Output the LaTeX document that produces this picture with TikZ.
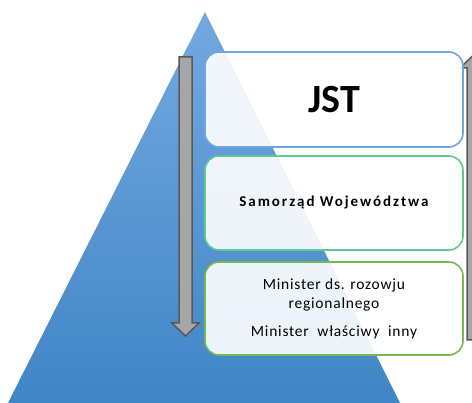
\documentclass[tikz,border=0pt]{standalone}
\usepackage{fontspec}
\setmainfont{Carlito}
\usetikzlibrary{positioning}
\definecolor{triTop}{HTML}{74A8E0}
\definecolor{triBot}{HTML}{3F86C6}
\definecolor{boxBlue}{HTML}{6FA6DC}
\definecolor{boxTeal}{HTML}{5CCB92}
\definecolor{boxGreen}{HTML}{76B852}
\definecolor{arrFill}{HTML}{A6A6A6}
\definecolor{arrLine}{HTML}{595959}
\tikzset{
  tier/.style={draw, line width=1.6pt, rounded corners=14pt, fill=white, fill opacity=0.9, text opacity=1,
    minimum width=258pt, inner sep=0pt, align=center, text=black},
  bigarrow/.style={fill=arrFill, draw=arrLine, line width=1.5pt, line join=miter},
}
\begin{document}
\begin{tikzpicture}[x=1pt,y=-1pt]
\useasboundingbox (0,0) rectangle (472,403);
\begin{scope}
\clip (0,0) rectangle (472,403);
% pyramid
\shade[top color=triTop, bottom color=triBot] (205,12) -- (400,403) -- (8,403) -- cycle;
% left down arrow
\draw[bigarrow] (179,57) -- (192,57) -- (192,323) -- (199,323) -- (185.5,336) -- (172,323) -- (179,323) -- cycle;
% right up arrow
\draw[bigarrow] (467,340) -- (480,340) -- (480,68) -- (487,68) -- (473.5,55) -- (460,68) -- (467,68) -- cycle;
\end{scope}
% tiers
\node[tier, draw=boxBlue, minimum height=95pt, font=\fontsize{40}{44}\selectfont\bfseries] (jst) at (334,99.5) {JST};
\node[tier, draw=boxTeal, minimum height=94pt, font=\fontsize{15}{18}\selectfont\bfseries\addfontfeature{LetterSpace=13}] (woj) at (334,203) {Samorząd Województwa};
\node[tier, draw=boxGreen, minimum height=93pt, font=\fontsize{15.5}{20}\selectfont\addfontfeature{LetterSpace=5}] (min) at (334,308.5) {Minister ds. rozowju\\[-1pt] regionalnego\\[8pt] Minister~ właściwy~ inny};
\end{tikzpicture}
\end{document}
